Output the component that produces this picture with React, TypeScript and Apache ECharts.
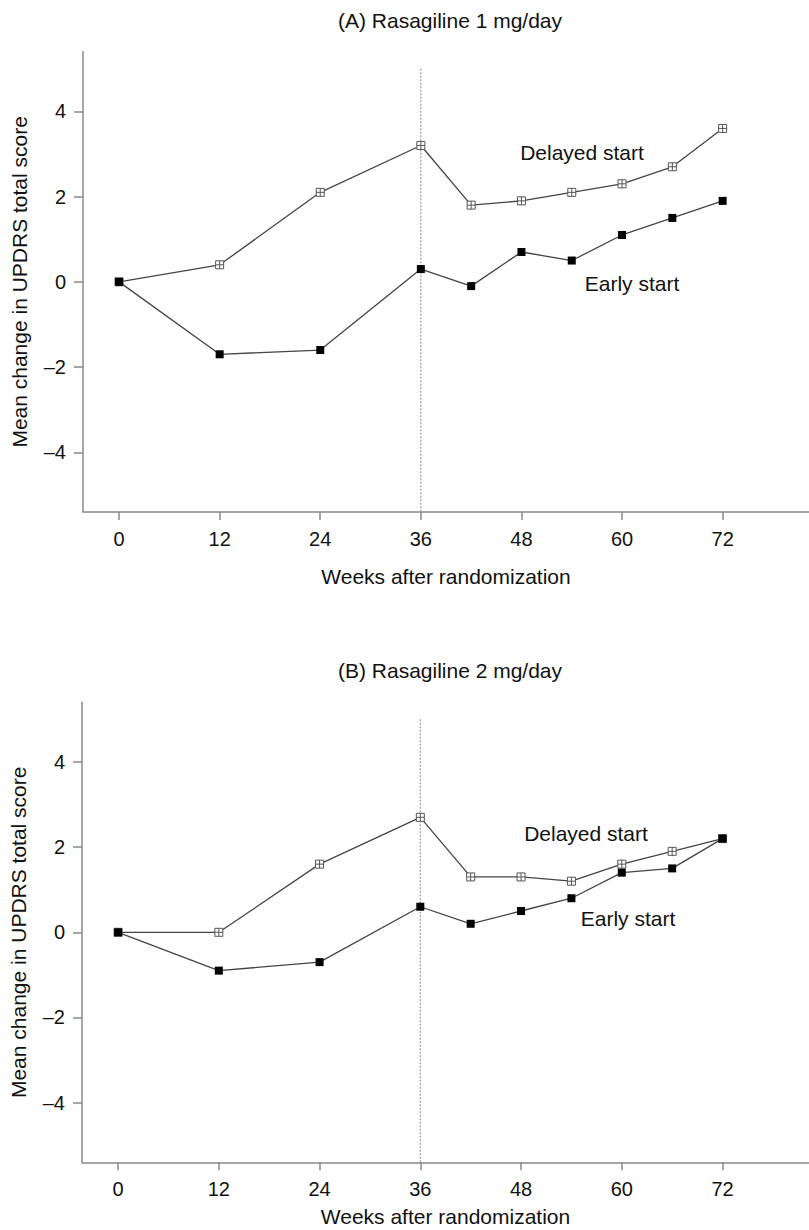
import React, { useEffect, useRef } from "react";
import * as echarts from "echarts";

// Study weeks at which the mean change was measured
const weeks = [0, 12, 24, 36, 42, 48, 54, 60, 66, 72];

// Panel A: rasagiline 1 mg/day
const delayedA = [0, 0.4, 2.1, 3.2, 1.8, 1.9, 2.1, 2.3, 2.7, 3.6];
const earlyA = [0, -1.7, -1.6, 0.3, -0.1, 0.7, 0.5, 1.1, 1.5, 1.9];

// Panel B: rasagiline 2 mg/day
const delayedB = [0, 0, 1.6, 2.7, 1.3, 1.3, 1.2, 1.6, 1.9, 2.2];
const earlyB = [0, -0.9, -0.7, 0.6, 0.2, 0.5, 0.8, 1.4, 1.5, 2.2];

const xTicks = [0, 12, 24, 36, 48, 60, 72];
const yTicks = [-4, -2, 0, 2, 4];
const switchWeek = 36;
const switchLineTop = 5;

const panelTitles = ["(A) Rasagiline 1 mg/day", "(B) Rasagiline 2 mg/day"];
const seriesNames = ["Delayed start", "Early start"];

const FONT = "Liberation Sans, Arial, Helvetica, sans-serif";
const X_MIN = -4.3;
const X_MAX = 82.3;
const Y_MIN = -5.4;
const Y_MAX = 5.4;

const fmt = (v: number) => (v < 0 ? "\u2013" + Math.abs(v) : String(v));
const pairs = (vals: number[]) => weeks.map((w, i) => [w, vals[i]]);

const crossSquare = "path://M0,0H10V10H0ZM5,0V10M0,5H10";

export default function App() {
  const ref = useRef<HTMLDivElement>(null);

  useEffect(() => {
    if (!ref.current) return;
    const chart = echarts.init(ref.current, undefined, { renderer: "svg" });

    const grids = [
      { left: 83, top: 51.7, width: 726, height: 460.3 },
      { left: 82, top: 702.3, width: 727, height: 460 },
    ];

    const xAxes = grids.map((_, i) => ({
      type: "value",
      gridIndex: i,
      min: X_MIN,
      max: X_MAX,
      name: "Weeks after randomization",
      nameLocation: "middle",
      nameGap: i === 0 ? 54 : 44,
      nameTextStyle: { fontFamily: FONT, fontSize: 21, color: "#111" },
      axisLine: { show: true, onZero: false, lineStyle: { color: "#888", width: 1.5 } },
      axisTick: { show: true, length: 8, customValues: xTicks, lineStyle: { color: "#888", width: 1.5 } },
      axisLabel: {
        customValues: xTicks,
        formatter: fmt,
        margin: 17,
        fontFamily: FONT,
        fontSize: 20,
        color: "#111",
      },
      splitLine: { show: false },
    }));

    const yAxes = grids.map((_, i) => ({
      type: "value",
      gridIndex: i,
      min: Y_MIN,
      max: Y_MAX,
      name: "Mean change in UPDRS total score",
      nameLocation: "middle",
      nameRotate: 90,
      nameGap: 53,
      nameTextStyle: { fontFamily: FONT, fontSize: 21, color: "#111" },
      axisLine: { show: true, onZero: false, lineStyle: { color: "#888", width: 1.5 } },
      axisTick: { show: true, length: 9, customValues: yTicks, lineStyle: { color: "#888", width: 1.5 } },
      axisLabel: {
        customValues: yTicks,
        formatter: fmt,
        margin: 17,
        fontFamily: FONT,
        fontSize: 20,
        color: "#111",
      },
      splitLine: { show: false },
    }));

    const panels = [
      { delayed: delayedA, early: earlyA },
      { delayed: delayedB, early: earlyB },
    ];

    const series: any[] = [];
    panels.forEach((p, i) => {
      series.push({
        type: "line",
        xAxisIndex: i,
        yAxisIndex: i,
        silent: true,
        symbol: "none",
        data: [
          [switchWeek, switchLineTop],
          [switchWeek, Y_MIN],
        ],
        lineStyle: { color: "#999", width: 1.2, type: [2, 1.5] },
        z: 1,
      });
      series.push({
        name: seriesNames[0],
        type: "line",
        xAxisIndex: i,
        yAxisIndex: i,
        data: pairs(p.delayed),
        symbol: crossSquare,
        symbolSize: 8,
        lineStyle: { color: "#444", width: 1.3 },
        itemStyle: { color: "#fff", borderColor: "#555", borderWidth: 1 },
        z: 2,
      });
      series.push({
        name: seriesNames[1],
        type: "line",
        xAxisIndex: i,
        yAxisIndex: i,
        data: pairs(p.early),
        symbol: "rect",
        symbolSize: 8,
        lineStyle: { color: "#444", width: 1.3 },
        itemStyle: { color: "#000" },
        z: 3,
      });
    });

    const txt = (text: string, x: number, y: number) => ({
      type: "text",
      x,
      y,
      style: {
        text,
        align: "center",
        verticalAlign: "middle",
        fontFamily: FONT,
        fontSize: 21,
        fill: "#111",
      },
    });

    chart.setOption({
      animation: false,
      backgroundColor: "#fff",
      grid: grids,
      xAxis: xAxes,
      yAxis: yAxes,
      series,
      graphic: [
        txt(panelTitles[0], 450, 20),
        txt(panelTitles[1], 450, 670),
        txt(seriesNames[0], 582, 152),
        txt(seriesNames[1], 632, 283),
        txt(seriesNames[0], 586, 833),
        txt(seriesNames[1], 628, 918),
      ],
    });

    return () => chart.dispose();
  }, []);

  return (
    <div
      ref={ref}
      style={{ position: "absolute", left: 0, top: 0, width: 809, height: 1230 }}
    />
  );
}
